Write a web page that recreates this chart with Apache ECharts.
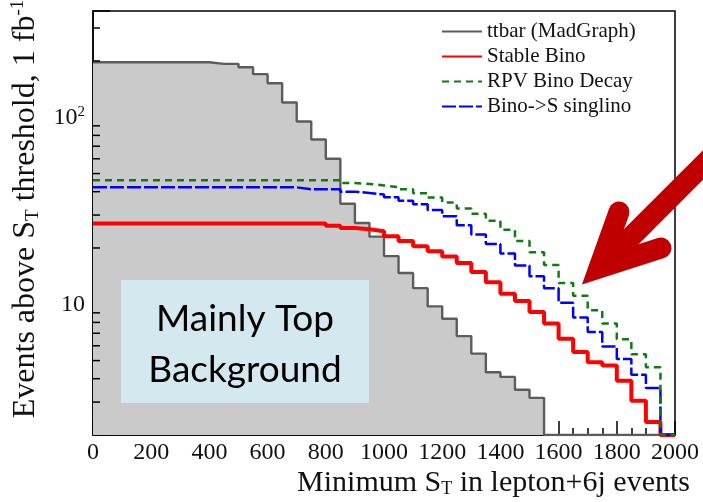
<!DOCTYPE html>
<html>
<head>
<meta charset="utf-8">
<script src="https://cdn.jsdelivr.net/npm/echarts@6/dist/echarts.min.js"></script>
<style>html,body{margin:0;padding:0;background:#fff}#c{width:703px;height:502px}</style>
</head>
<body>
<div id="c"></div>
<script>
// Lower bin edges (GeV), bin width 50
const binEdges = [0,50,100,150,200,250,300,350,400,450,500,550,600,650,700,750,800,850,900,950,
  1000,1050,1100,1150,1200,1250,1300,1350,1400,1450,1500,1550,1600,1650,1700,1750,1800,1850,1900,1950];
const upperEdge = 2000;
const ttbar = [197,197,197,197,197,197,197,197,193,193,185,170,152,120,95,76,60,34.5,27.2,23,
  18.1,14.7,12.2,9.75,8.37,6.76,5.45,4.33,4.09,3.49,3.16,0,0,0,0,0,0,0,0,0];
const stableBino = [27,27,27,27,27,27,27,27,27,27,27,27,27,27,27,27,26.3,25.6,25.2,24.6,
  23.1,21.8,20.4,19.2,18.0,16.6,14.9,13.1,11.4,10.4,9.1,7.9,6.55,5.55,4.9,4.7,3.9,3.05,2.35,0];
const rpvBinoDecay = [46,46,46,46,46,46,46,46,46,46,46,46,46,46,46,46,46,44.5,44,43.2,
  42.3,41.2,39.2,37.2,35.0,32.5,30.5,28.0,25,21.8,19.0,16.2,13.0,11.1,9.3,7.9,6.5,5.4,4.6,0];
const binoToSinglino = [42.2,42.2,42.2,42.2,42.2,42.2,42.2,42.2,42.2,42.2,42.2,42.2,42.2,42.2,41.2,41.2,41.2,40.0,39.4,38.6,
  37.4,35.8,34.3,31.9,29.6,26.5,23.6,21.0,18.7,16.1,14.1,12.2,10.2,8.5,7.1,5.95,5.1,4.2,3.57,0];
const seriesNames = ['ttbar (MadGraph)','Stable Bino','RPV Bino Decay','Bino->S singlino'];
const xTicks = [0,200,400,600,800,1000,1200,1400,1600,1800,2000];
const yMajorTicks = [10,100];
const yMinorTicks = [3,4,5,6,7,8,9,20,30,40,50,60,70,80,90,200,300];
const yMin = 2, yMax = 370;

function hist(vals){
  const pts = binEdges.map((e,i)=>[e, Math.max(vals[i], yMin)]);
  pts.push([upperEdge, Math.max(vals[vals.length-1], yMin)]);
  return pts;
}

const serif = 'Liberation Serif';
const chart = echarts.init(document.getElementById('c'), null, {renderer:'canvas'});
chart.setOption({
  animation:false,
  backgroundColor:'#fff',
  grid:{left:93,right:28,top:11,bottom:67,show:true,borderColor:'#000',borderWidth:1.5,backgroundColor:'#fff',containLabel:false,outerBoundsMode:'none'},
  legend:{
    data:seriesNames, orient:'vertical', left:436, top:16, itemWidth:40, itemHeight:12, itemGap:4,
    itemStyle:{opacity:0},
    textStyle:{fontFamily:serif,fontSize:21,color:'#111',lineHeight:21}
  },
  xAxis:{
    type:'value', min:0, max:2000, interval:200,
    axisLine:{lineStyle:{color:'#000',width:1.5}},
    axisTick:{inside:true,length:14,lineStyle:{color:'#000',width:1.5}},
    minorTick:{show:true,splitNumber:4,length:7,lineStyle:{color:'#000',width:1.5}},
    splitLine:{show:false},
    axisLabel:{fontFamily:serif,fontSize:24,color:'#111',margin:6,
      formatter:v=>xTicks.includes(v)?String(v):''},
    name:'Minimum S{sub|T} in lepton+6j events', nameLocation:'end', nameGap:15,
    nameTextStyle:{fontFamily:serif,fontSize:30,color:'#111',align:'right',verticalAlign:'top',padding:[33,0,0,0],
      rich:{sub:{fontFamily:serif,fontSize:18,color:'#111',verticalAlign:'bottom',padding:[12,0,0,0]}}}
  },
  yAxis:{
    type:'log', logBase:10, min:yMin, max:yMax,
    axisLine:{lineStyle:{color:'#000',width:1.5}},
    axisTick:{inside:true,length:17,lineStyle:{color:'#000',width:1.5}},
    splitLine:{show:false},
    axisLabel:{fontFamily:serif,fontSize:24,color:'#111',margin:8,
      formatter:v=>{
        const l=Math.log10(v); if(Math.abs(l-Math.round(l))>1e-6) return '';
        const r=Math.round(l); if(!yMajorTicks.includes(Math.pow(10,r))) return '';
        return r===1?'10':'10{sup|'+r+'}';
      },
      rich:{sup:{fontFamily:serif,fontSize:15,color:'#111',verticalAlign:'top',padding:[0,0,10,0]}}
    },
    name:'Events above S{sub|T} threshold, 1 fb{sup|-1}', nameLocation:'middle', nameGap:44,
    nameTextStyle:{fontFamily:serif,fontSize:32,color:'#111',padding:[0,0,0,28],
      rich:{sub:{fontFamily:serif,fontSize:19,color:'#111',padding:[15,0,0,0]},
            sup:{fontFamily:serif,fontSize:19,color:'#111',padding:[0,0,15,0]}}}
  },
  series:[
    {name:seriesNames[0],type:'line',step:'end',symbol:'none',data:hist(ttbar),
     lineStyle:{color:'#5c5c5c',width:2.4},itemStyle:{color:'#5c5c5c'},
     areaStyle:{color:'#cacaca',opacity:1,origin:'start'},z:1},
    {name:seriesNames[1],type:'line',step:'end',symbol:'none',data:hist(stableBino),
     lineStyle:{color:'#ff0000',width:4},itemStyle:{color:'#ff0000'},z:3},
    {name:seriesNames[3],type:'line',step:'end',symbol:'none',data:hist(binoToSinglino),
     lineStyle:{color:'#0000ff',width:2.5,type:[14,3]},itemStyle:{color:'#0000ff'},z:4},
    {name:seriesNames[2],type:'line',step:'end',symbol:'none',data:hist(rpvBinoDecay),
     lineStyle:{color:'#127a12',width:2.5,type:[7,5]},itemStyle:{color:'#127a12'},z:5},
    {name:'minorY',type:'custom',silent:true,clip:false,z:6,
     data:yMinorTicks.map(v=>[0,v]),
     renderItem:(params,api)=>{
       const p=api.coord([0,api.value(1)]);
       return {type:'line',shape:{x1:p[0],y1:p[1],x2:p[0]+7,y2:p[1]},style:{stroke:'#000',lineWidth:1.5}};
     }}
  ],
  graphic:[
    {type:'rect',shape:{x:121,y:280,width:248,height:123},style:{fill:'#d4e9ef'},z:10},
    {type:'text',x:245,y:319,style:{text:'Mainly Top',font:'37px Lato',fill:'#000',textAlign:'center',textVerticalAlign:'middle'},z:11},
    {type:'text',x:245,y:370,style:{text:'Background',font:'37px Lato',fill:'#000',textAlign:'center',textVerticalAlign:'middle'},z:11},
    {type:'polyline',shape:{points:[[619,212],[599,268],[661,248]]},style:{stroke:'#c00000',lineWidth:21,lineJoin:'miter',lineCap:'round',fill:null},z:12},
    {type:'line',shape:{x1:606,y1:262,x2:730,y2:138},style:{stroke:'#c00000',lineWidth:21,lineCap:'round'},z:12}
  ]
});
</script>
</body>
</html>
